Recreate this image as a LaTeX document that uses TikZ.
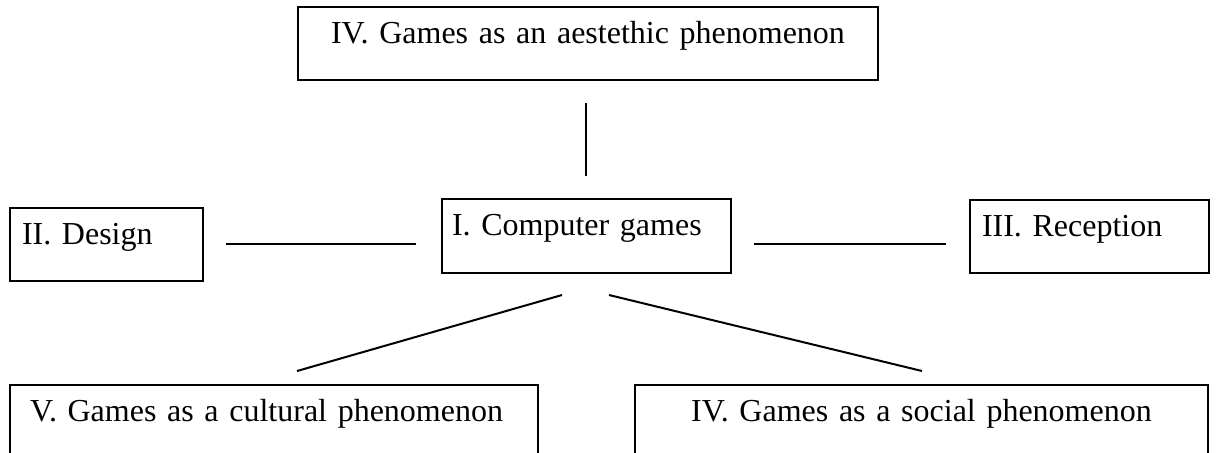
\documentclass[tikz,border=0pt]{standalone}
\usepackage{fontspec}
\setmainfont{Liberation Serif}

\tikzset{
  topic/.style={draw, line width=1pt, anchor=north west, inner ysep=0pt,
    inner xsep=6pt, text height=18pt, font=\fontsize{16}{19}\selectfont},
  link/.style={line width=1pt}
}

\begin{document}
\begin{tikzpicture}[x=0.5pt, y=-0.5pt]
\clip (0,0) rectangle (1216,452);

% boxes
\node[topic, text width=278pt, text depth=18.5pt, align=center] (aesth) at (297,6) {IV. Games as an aestethic phenomenon};
\node[topic, text width=84.5pt, text depth=18.5pt, align=left] (design) at (9,207) {II. Design};
\node[topic, inner xsep=5pt, text width=134.5pt, text depth=19pt, align=left] (games) at (441,198) {I. Computer games};
\node[topic, text width=107.5pt, text depth=18.5pt, align=left] (recep) at (969,199) {III. Reception};
\node[topic, inner xsep=10pt, text width=244pt, text depth=32pt, align=left] (cult) at (9,384) {V. Games as a cultural phenomenon};
\node[topic, text width=274.5pt, text depth=32pt, align=center] (social) at (634,384) {IV. Games as a social phenomenon};

% loose lines between the boxes
\coordinate (v1) at (586,103);  \coordinate (v2) at (586,176);
\coordinate (hl1) at (226,244); \coordinate (hl2) at (416,244);
\coordinate (hr1) at (754,244); \coordinate (hr2) at (946,244);
\coordinate (dl1) at (562,295); \coordinate (dl2) at (297,371);
\coordinate (dr1) at (609,295); \coordinate (dr2) at (922,371);
\foreach \a/\b in {v1/v2, hl1/hl2, hr1/hr2, dl1/dl2, dr1/dr2}
  \draw[link] (\a) -- (\b);
\end{tikzpicture}
\end{document}
